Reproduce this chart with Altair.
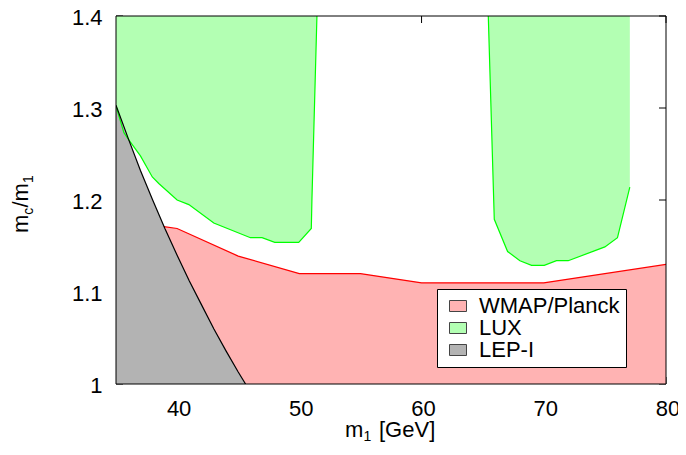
import altair as alt
import pandas as pd

W, H = 550, 368
FONT = "Liberation Sans"

x_ticks = [40, 50, 60, 70, 80]
y_ticks = [1.0, 1.1, 1.2, 1.3, 1.4]

# LEP-I boundary (m_c/m_1 vs m_1)
lep_x = [35.0, 36.0, 37.0, 38.0, 39.0, 40.0, 41.0, 42.0, 43.0, 44.0, 45.0, 45.6]
lep_y = [1.303, 1.267, 1.232, 1.200, 1.169, 1.140, 1.112, 1.086, 1.060, 1.036, 1.013, 1.000]

# WMAP/Planck upper boundary
wmap_x = [38.92, 40.0, 45.0, 50.0, 55.0, 60.0, 70.0, 80.0]
wmap_y = [1.171, 1.169, 1.139, 1.120, 1.120, 1.110, 1.110, 1.130]

# LUX excluded region, lower boundary (two pieces)
lux1_x = [35.0, 35.65, 36.06, 37.0, 37.97, 38.5, 40.0, 40.96, 43.0, 46.0, 46.95,
          47.99, 49.95, 50.98, 51.03, 51.44]
lux1_y = [1.302, 1.273, 1.265, 1.248, 1.225, 1.218, 1.200, 1.195, 1.175, 1.159, 1.159,
          1.154, 1.154, 1.169, 1.200, 1.400]
lux2_x = [65.46, 65.95, 67.04, 68.05, 69.0, 70.04, 71.04, 72.0, 75.0, 76.03, 77.04]
lux2_y = [1.400, 1.179, 1.144, 1.134, 1.129, 1.129, 1.134, 1.134, 1.149, 1.159, 1.214]

regions = ["WMAP/Planck", "LUX", "LEP-I"]
fills = ["#ffb3b3", "#b3ffb3", "#b3b3b3"]

Y_MIN, Y_MAX = 1.0, 1.4

wmap_df = pd.DataFrame({"x": wmap_x, "b": wmap_y, "lo": Y_MIN, "hi": wmap_y,
                        "region": "WMAP/Planck", "piece": "w"})
lep_df = pd.DataFrame({"x": lep_x, "b": lep_y, "lo": Y_MIN, "hi": lep_y,
                       "region": "LEP-I", "piece": "l"})
lux_df = pd.concat([
    pd.DataFrame({"x": lux1_x, "b": lux1_y, "lo": lux1_y, "hi": Y_MAX,
                  "region": "LUX", "piece": "a"}),
    pd.DataFrame({"x": lux2_x, "b": lux2_y, "lo": lux2_y, "hi": Y_MAX,
                  "region": "LUX", "piece": "b"}),
], ignore_index=True)

xs = alt.Scale(domain=[35, 80], nice=False, zero=False)
ys = alt.Scale(domain=[Y_MIN, Y_MAX], nice=False, zero=False)

xaxis = alt.Axis(values=x_ticks, title=None, labelFont=FONT, labelFontSize=22,
                 labelColor="black", labelPadding=14, labelOffset=1.5, ticks=False,
                 tickSize=0, domain=False, grid=False, labelFlush=False,
                 labelOverlap=False)
yaxis = alt.Axis(values=y_ticks, format="~g", title=None, labelFont=FONT,
                 labelFontSize=22, labelColor="black", labelPadding=14,
                 labelOffset=1.5, ticks=False, tickSize=0, domain=False, grid=False,
                 labelFlush=False, labelOverlap=False)

X = lambda f: alt.X(f, scale=xs, axis=xaxis)
Y = lambda f: alt.Y(f, scale=ys, axis=yaxis)

legend = alt.Legend(
    orient="none", legendX=321, legendY=273, title=None,
    fillColor="white", strokeColor="black", padding=6, symbolOffset=4,
    labelFont=FONT, labelFontSize=22, labelColor="black", labelOffset=10,
    symbolType="M-1,-0.647H1V0.647H-1Z", symbolSize=289,
    symbolStrokeColor="#444444", symbolStrokeWidth=1, rowPadding=0,
)
color = alt.Color("region:N", scale=alt.Scale(domain=regions, range=fills), legend=legend)

# tick marks (inward, drawn behind the fills)
TL = 7
xt = pd.DataFrame({"v": x_ticks})
yt = pd.DataFrame({"v": y_ticks})
tick_layers = [
    alt.Chart(xt).mark_rule(color="black").encode(x=X("v:Q"), y=alt.value(H - TL), y2=alt.value(H)),
    alt.Chart(xt).mark_rule(color="black").encode(x=X("v:Q"), y=alt.value(0), y2=alt.value(TL)),
    alt.Chart(yt).mark_rule(color="black").encode(y=Y("v:Q"), x=alt.value(0), x2=alt.value(TL)),
    alt.Chart(yt).mark_rule(color="black").encode(y=Y("v:Q"), x=alt.value(W - TL), x2=alt.value(W)),
]

def area(df):
    return alt.Chart(df).mark_area(clip=True, interpolate="linear").encode(
        x=X("x:Q"), y=Y("hi:Q"), y2="lo:Q", color=color, detail="piece:N")

def bline(df, c):
    return alt.Chart(df).mark_line(clip=True, color=c, strokeWidth=1.2).encode(
        x=X("x:Q"), y=Y("b:Q"), detail="piece:N")

def txt(s, x, y, size, angle=0):
    return alt.Chart(alt.Data(values=[{}])).mark_text(
        text=s, font=FONT, fontSize=size, align="left", baseline="alphabetic",
        angle=angle, color="black").encode(x=alt.value(x), y=alt.value(y))

border = alt.Chart(alt.Data(values=[{}])).mark_rect(
    fill="transparent", stroke="black", strokeWidth=1).encode(
    x=alt.value(0), x2=alt.value(W), y=alt.value(0), y2=alt.value(H))

titles = [
    txt("m", 229, 421, 22),
    txt("1", 247.5, 425, 14),
    txt("[GeV]", 263, 421, 22),
    txt("m", -88, 217, 22, 270),
    txt("c", -83, 198.7, 14, 270),
    txt("/m", -88, 191.5, 22, 270),
    txt("1", -83, 167, 14, 270),
]

chart = alt.layer(
    *tick_layers,
    area(wmap_df), area(lux_df), area(lep_df),
    bline(wmap_df, "#ff0000"), bline(lux_df, "#00ff00"), bline(lep_df, "#000000"),
    border, *titles,
).properties(
    width=W, height=H,
    autosize=alt.AutoSizeParams(type="none"),
    padding={"left": 108, "top": 8, "right": 12, "bottom": 58},
).configure_view(strokeOpacity=0)

chart.save("out.html", embed_options={"renderer": "svg", "actions": False})
